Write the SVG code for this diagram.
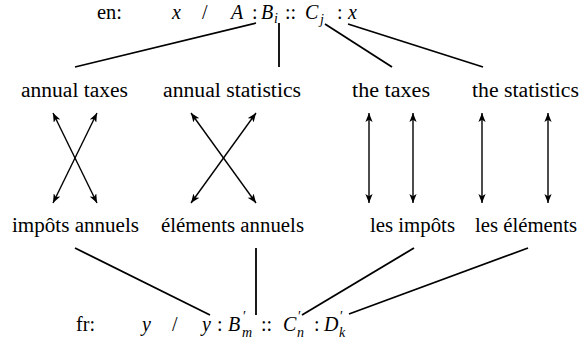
<svg xmlns="http://www.w3.org/2000/svg" width="580" height="343" viewBox="0 0 580 343" font-family="Liberation Serif">
<style>
text{font-size:20px;fill:#000}
.m{font-style:italic}
.s{font-size:14px}
.p{font-size:14px}
.ln{stroke:#000;stroke-width:1.8;fill:none}
.ar{stroke:#000;stroke-width:1.4;fill:none;marker-start:url(#ah);marker-end:url(#ah)}
</style>
<defs>
<marker id="ah" viewBox="0 0 10 8" refX="10" refY="4" markerWidth="9" markerHeight="7.2" markerUnits="userSpaceOnUse" orient="auto-start-reverse">
<path d="M0,0 L10,4 L0,8 L2.5,4 Z" fill="#000"/>
</marker>
</defs>
<rect width="580" height="343" fill="#fff"/>
<g id="en" font-family="Liberation Serif">
<text x="97" y="19" textLength="25" lengthAdjust="spacingAndGlyphs">en:</text>
<text x="172" y="19" class="m">x</text>
<text x="202" y="19">/</text>
<text y="19"><tspan x="231" class="m">A</tspan><tspan x="252">:</tspan><tspan x="261" class="m">B</tspan><tspan x="274" y="23" class="m s">i</tspan><tspan x="285" y="19">::</tspan><tspan x="305" class="m">C</tspan><tspan x="320" y="24" class="m s">j</tspan><tspan x="337" y="19">:</tspan><tspan x="348" class="m">x</tspan></text>
</g>
<g id="annual_taxes" font-family="Liberation Serif"><text x="21" y="97" textLength="107" lengthAdjust="spacingAndGlyphs">annual taxes</text></g>
<g id="annual_statistics" font-family="Liberation Serif"><text x="163" y="97" textLength="138" lengthAdjust="spacingAndGlyphs">annual statistics</text></g>
<g id="the_taxes" font-family="Liberation Serif"><text x="352" y="97" textLength="78" lengthAdjust="spacingAndGlyphs">the taxes</text></g>
<g id="the_statistics" font-family="Liberation Serif"><text x="472" y="97" textLength="107" lengthAdjust="spacingAndGlyphs">the statistics</text></g>
<g id="impots_annuels" font-family="Liberation Serif"><text x="12" y="232" textLength="127" lengthAdjust="spacingAndGlyphs">impôts annuels</text></g>
<g id="elements_annuels" font-family="Liberation Serif"><text x="161" y="232" textLength="143" lengthAdjust="spacingAndGlyphs">éléments annuels</text></g>
<g id="les_impots" font-family="Liberation Serif"><text x="370" y="232" textLength="85" lengthAdjust="spacingAndGlyphs">les impôts</text></g>
<g id="les_elements" font-family="Liberation Serif"><text x="475" y="232" textLength="102" lengthAdjust="spacingAndGlyphs">les éléments</text></g>
<g id="fr" font-family="Liberation Serif">
<text x="76" y="331" textLength="19" lengthAdjust="spacingAndGlyphs">fr:</text>
<text x="142" y="331" class="m">y</text>
<text x="172" y="331">/</text>
<text y="331"><tspan x="202" class="m">y</tspan><tspan x="217">:</tspan><tspan x="228" class="m">B</tspan><tspan x="243" y="321" class="p">′</tspan><tspan x="242" y="337" class="m s">m</tspan><tspan x="261" y="331">::</tspan><tspan x="283" class="m">C</tspan><tspan x="298" y="321" class="p">′</tspan><tspan x="297" y="337" class="m s">n</tspan><tspan x="314" y="331">:</tspan><tspan x="324" class="m">D</tspan><tspan x="340" y="321" class="p">′</tspan><tspan x="339" y="337" class="m s">k</tspan></text>
</g>
<g id="connectors">
<line class="ln" x1="256" y1="23" x2="75" y2="67"/>
<line class="ln" x1="279" y1="23" x2="279" y2="67"/>
<line class="ln" x1="325" y1="24" x2="392" y2="67"/>
<line class="ln" x1="348" y1="24" x2="483" y2="67"/>
<line class="ar" x1="53" y1="113" x2="97" y2="203"/>
<line class="ar" x1="97" y1="113" x2="53" y2="203"/>
<line class="ar" x1="191" y1="113" x2="256" y2="203"/>
<line class="ar" x1="256" y1="113" x2="191" y2="203"/>
<line class="ar" x1="369" y1="113" x2="369" y2="203"/>
<line class="ar" x1="413" y1="113" x2="413" y2="203"/>
<line class="ar" x1="482" y1="113" x2="482" y2="203"/>
<line class="ar" x1="548" y1="113" x2="548" y2="203"/>
<line class="ln" x1="75" y1="248" x2="210" y2="315"/>
<line class="ln" x1="256" y1="248" x2="256" y2="315"/>
<line class="ln" x1="414" y1="248" x2="302" y2="315"/>
<line class="ln" x1="528" y1="248" x2="349" y2="314"/>
</g>
</svg>
